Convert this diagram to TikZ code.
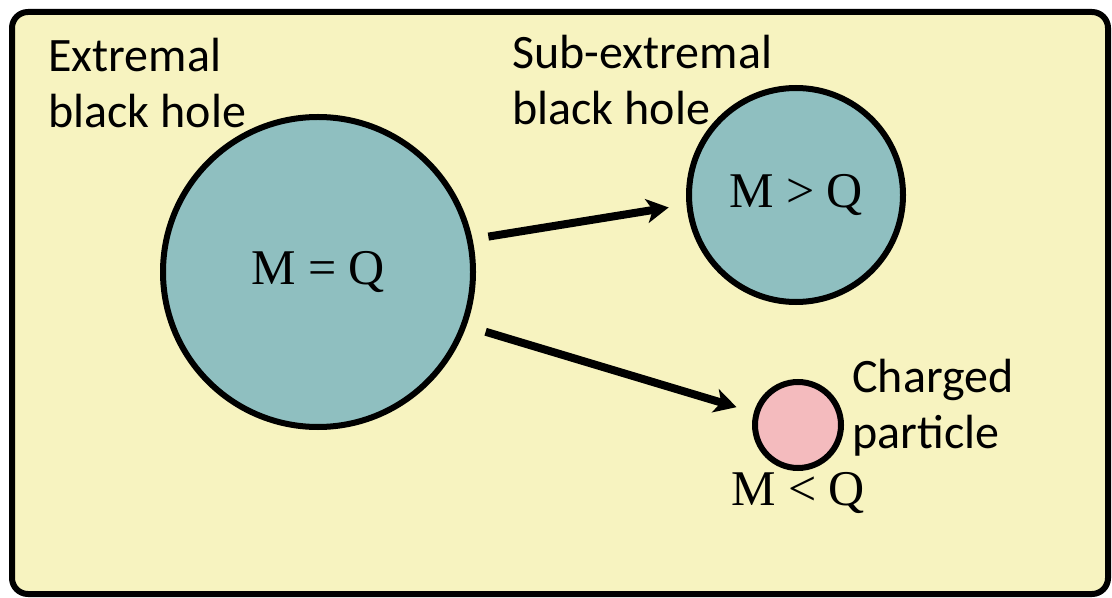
\documentclass[tikz,border=0pt]{standalone}
\usepackage{xcolor}
\usepackage{fontspec}
\setmainfont{Carlito}
\newfontfamily\timesfont{Liberation Serif}
\usepackage{tikz}
\usetikzlibrary{arrows.meta}

\definecolor{paper}{HTML}{F7F3C0}
\definecolor{holefill}{HTML}{8FBFC0}
\definecolor{particlefill}{HTML}{F4BBBE}

\tikzset{
  hole/.style={circle, draw=black, line width=3pt, fill=holefill, inner sep=0pt},
  label/.style={anchor=base west, align=left, inner sep=0pt, font=\fontsize{24}{28}\selectfont},
  mq/.style={font=\timesfont\fontsize{25}{28}\selectfont},
  decay/.style={line width=4pt, -{Stealth[length=11pt, width=12pt, inset=3pt]}}
}

\begin{document}
\begin{tikzpicture}[x=0.5pt, y=-0.5pt]
\useasboundingbox (0,0) rectangle (1112,598);
\draw[fill=paper, line width=3pt, rounded corners=8pt] (12,12) rectangle (1108,594);
% black holes
\node[hole, minimum size=155pt] (extremal) at (318,272) {};
\node[hole, minimum size=107pt] (subext) at (796,195) {};
\node[hole, fill=particlefill, minimum size=43pt] (particle) at (798,425) {};
\node[mq] at (extremal) {M = Q};
\node[mq] at (subext) {M > Q};
\node[mq, anchor=base] (mlq) at (798,505) {M < Q};
% labels (anchored at the second line)
\node[label] (extlabel) at (48,128) {Extremal\\black hole};
\node[label] (sublabel) at (512,125) {Sub-extremal\\black hole};
\node[label] (partlabel) at (852,448) {Charged\\particle};
% arrows
\draw[decay, shorten <=8pt, shorten >=9pt] (extremal.12.5) -- (subext.185.4);
\draw[decay, shorten <=10pt, shorten >=9pt] (extremal.-20.9) -- (particle.164);
\end{tikzpicture}
\end{document}
